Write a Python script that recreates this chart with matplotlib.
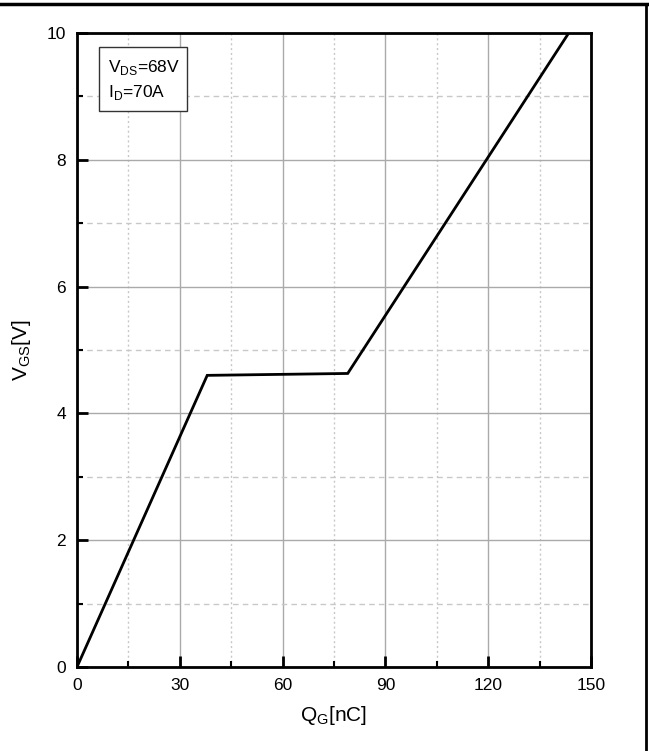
import matplotlib
matplotlib.use("Agg")
import matplotlib.pyplot as plt
from matplotlib.lines import Line2D
from matplotlib.patches import Rectangle
from matplotlib.ticker import MultipleLocator

# gate charge curve
qg = [0, 38, 79, 143.5]
vgs = [0, 4.6, 4.63, 10]

x_ticks = [0, 30, 60, 90, 120, 150]
y_ticks = [0, 2, 4, 6, 8, 10]

plt.rcParams["font.family"] = ["Liberation Sans", "DejaVu Sans"]
plt.rcParams["mathtext.fontset"] = "custom"
plt.rcParams["mathtext.rm"] = "Liberation Sans"

fig = plt.figure(figsize=(6.49, 7.51), dpi=100)
ax = fig.add_axes([77 / 649, 1 - 667 / 751, 514 / 649, 634 / 751])

ax.plot(qg, vgs, color="black", lw=2, solid_joinstyle="miter", zorder=3)

ax.set_xlim(0, 150)
ax.set_ylim(0, 10)
ax.set_xticks(x_ticks)
ax.set_yticks(y_ticks)
ax.xaxis.set_minor_locator(MultipleLocator(15))
ax.yaxis.set_minor_locator(MultipleLocator(1))

# grid: solid grey on major, dashed/dotted on minor
ax.grid(which="major", color="#aaaaaa", lw=1, ls="-")
ax.grid(which="minor", axis="y", color="#c8c8c8", lw=1, ls=(0, (4, 3)))
ax.grid(which="minor", axis="x", color="#c8c8c8", lw=1, ls=(0, (1.5, 2)))
ax.set_axisbelow(True)

ax.tick_params(which="major", direction="in", length=8, width=2, labelsize=12.5,
               top=False, right=False, pad=8)
ax.tick_params(which="minor", direction="in", length=4, width=1.5,
               top=False, right=False)
for s in ax.spines.values():
    s.set_linewidth(2)

ax.set_xlabel("Q$_\\mathregular{G}$[nC]", fontsize=15, labelpad=8)
ax.set_ylabel("V$_\\mathregular{GS}$[V]", fontsize=15, labelpad=10)

# condition box
ax.add_patch(Rectangle((0.043, 0.877), 0.171, 0.101, transform=ax.transAxes,
                       fc="white", ec="#333333", lw=1, zorder=4))
ax.text(0.060, 0.939, "V$_\\mathregular{DS}$=68V", transform=ax.transAxes,
        fontsize=12.5, va="baseline", ha="left", zorder=5)
ax.text(0.060, 0.899, "I$_\\mathregular{D}$=70A", transform=ax.transAxes,
        fontsize=12.5, va="baseline", ha="left", zorder=5)

# frame pieces at the top and right edge of the picture
fig.add_artist(Line2D([0, 1], [1 - 4 / 751, 1 - 4 / 751], color="black", lw=2.5,
                      transform=fig.transFigure))
fig.add_artist(Line2D([646 / 649, 646 / 649], [0, 1 - 4 / 751], color="black", lw=2,
                      transform=fig.transFigure))

fig.savefig("out.png", dpi=100)
